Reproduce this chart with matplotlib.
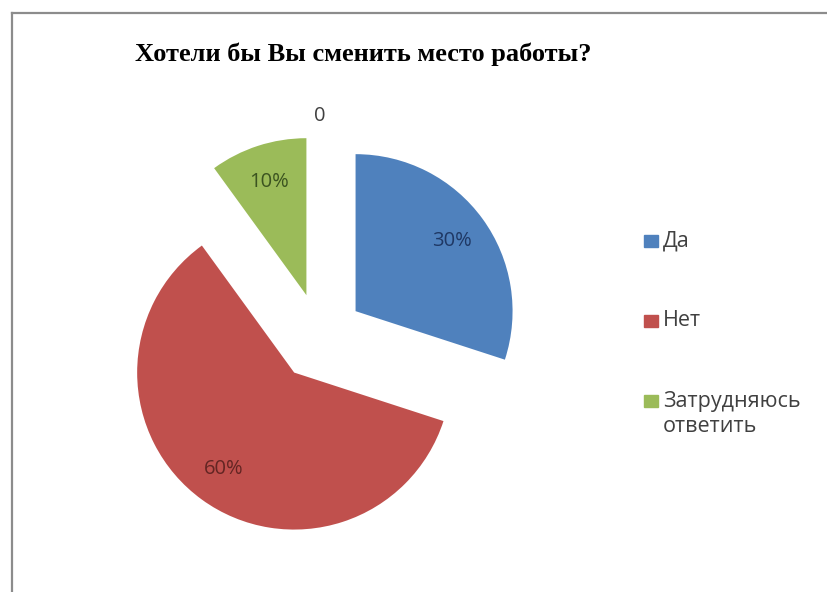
import matplotlib.pyplot as plt
from matplotlib.lines import Line2D
from matplotlib.patches import Rectangle

# данные
categories = ["Да", "Нет", "Затрудняюсь\nответить"]
values = [30, 60, 10]
colors = ["#4F81BD", "#C0504D", "#9BBB59"]
label_colors = ["#1F3864", "#632523", "#3B5320"]
zero_label = "0"
title = "Хотели бы Вы сменить место работы?"

W, H = 827, 592
SANS = ["Open Sans", "DejaVu Sans"]
fig = plt.figure(figsize=(W / 100, H / 100), dpi=100)

# рамка диаграммы (видны только левый и верхний края)
fig.add_artist(Line2D([11.5 / W, 11.5 / W], [0, 1 - 12.5 / H], color="#8c8c8c", lw=1.6))
fig.add_artist(Line2D([11.5 / W, 1], [1 - 12.5 / H, 1 - 12.5 / H], color="#8c8c8c", lw=1.6))

# оси: 1 единица = 157 px, центр круга в (320, 337)
r_px, cx, cy = 157, 320, 337
ax = fig.add_axes([0, 0, 1, 1])

wedges, texts, autotexts = ax.pie(
    values,
    colors=colors,
    startangle=90,
    counterclock=False,
    explode=[0.28] * len(values),
    autopct="%d%%",
    pctdistance=0.76,
    radius=1.0,
    textprops={"fontsize": 14.5, "family": SANS},
    wedgeprops={"linewidth": 0},
)
ax.set_xlim(-cx / r_px, (W - cx) / r_px)
ax.set_ylim(-(H - cy) / r_px, cy / r_px)
ax.set_aspect("auto")
ax.axis("off")
for t, c in zip(autotexts, label_colors):
    t.set_color(c)

# подпись нулевого значения
ax.text(0, 1.41, zero_label, ha="center", va="center", fontsize=14.5,
        color="#404040", family=SANS)

fig.text(363 / W, 1 - 54 / H, title, ha="center", va="center",
         fontsize=19, fontweight="bold", family=["Liberation Serif", "DejaVu Serif"])

# легенда
leg_y = [241, 321, 414]
for name, c, y in zip(categories, colors, leg_y):
    sq_y = y if "\n" not in name else y - 13
    fig.add_artist(Rectangle((644 / W, 1 - (sq_y + 6) / H), 14 / W, 12 / H,
                             color=c, transform=fig.transFigure))
    fig.text(663 / W, 1 - y / H, name, ha="left", va="center",
             fontsize=15.5, color="#404040", family=SANS, linespacing=1.25)

fig.savefig("out.png", dpi=100, facecolor="white")
